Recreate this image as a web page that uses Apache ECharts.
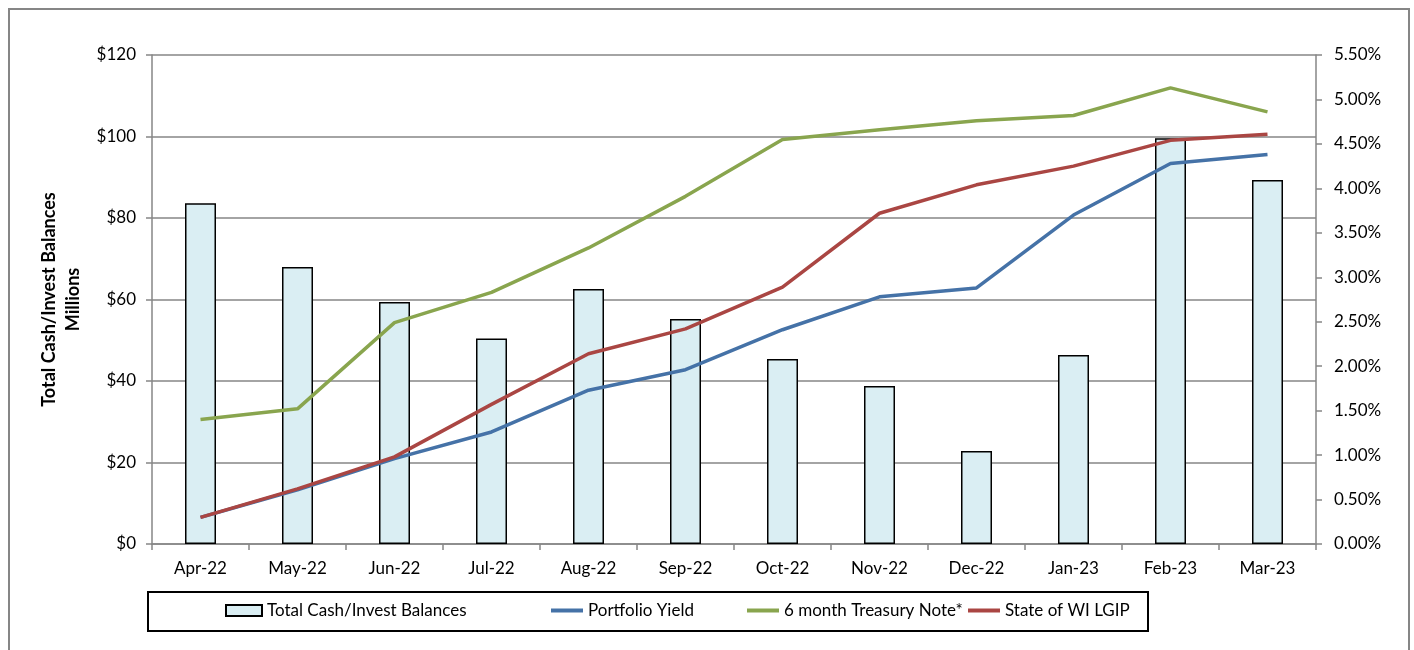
<!DOCTYPE html>
<html>
<head>
<meta charset="utf-8">
<script src="https://cdn.jsdelivr.net/npm/echarts@6/dist/echarts.min.js"></script>
<style>
  html, body { margin: 0; padding: 0; background: #fff; }
  #chart { width: 1414px; height: 650px; }
</style>
</head>
<body>
<div id="chart"></div>
<script>
const months = ['Apr-22', 'May-22', 'Jun-22', 'Jul-22', 'Aug-22', 'Sep-22', 'Oct-22', 'Nov-22', 'Dec-22', 'Jan-23', 'Feb-23', 'Mar-23']
// balances, $ millions
const balances = [83.6, 68.0, 59.4, 50.4, 62.6, 55.2, 45.4, 38.8, 22.8, 46.4, 99.6, 89.3]
// yields, percent
const portfolioYield = [0.30, 0.61, 0.96, 1.26, 1.73, 1.96, 2.41, 2.78, 2.88, 3.70, 4.28, 4.38]
const treasury6m = [1.40, 1.52, 2.49, 2.83, 3.33, 3.91, 4.55, 4.66, 4.76, 4.82, 5.13, 4.86]
const lgip = [0.30, 0.62, 0.98, 1.57, 2.14, 2.42, 2.89, 3.72, 4.04, 4.25, 4.54, 4.61]

const FONT = 'Lato'
const AXIS_GREY = '#868686'

const chart = echarts.init(document.getElementById('chart'))

const legendBase = {
  top: 602,
  padding: 0,
  itemHeight: 4,
  itemWidth: 32,
  textStyle: { fontFamily: FONT, fontSize: 17, color: '#000' },
}

chart.setOption({
  animation: false,
  textStyle: { fontFamily: FONT },
  grid: { left: 152, right: 98, top: 55, bottom: 106 },
  graphic: [
    {
      type: 'rect',
      shape: { x: 9, y: 9, width: 1400, height: 700 },
      style: { fill: 'none', stroke: AXIS_GREY, lineWidth: 2 },
      silent: true,
    },
    {
      type: 'rect',
      shape: { x: 148, y: 592, width: 1000, height: 39 },
      style: { fill: 'none', stroke: '#000', lineWidth: 2 },
      silent: true,
    },
  ],
  legend: [
    {
      ...legendBase,
      left: 225,
      itemWidth: 36,
      itemHeight: 11,
      data: [{ name: 'Total Cash/Invest Balances', icon: 'rect' }],
    },
    { ...legendBase, left: 551, data: [{ name: 'Portfolio Yield', icon: 'rect' }] },
    { ...legendBase, left: 747, data: [{ name: '6 month Treasury Note*', icon: 'rect' }] },
    { ...legendBase, left: 968, data: [{ name: 'State of WI LGIP', icon: 'rect' }] },
  ],
  xAxis: {
    type: 'category',
    data: months,
    boundaryGap: true,
    axisLine: { lineStyle: { color: AXIS_GREY, width: 1.5 } },
    axisTick: { show: true, length: 6, lineStyle: { color: AXIS_GREY, width: 1.5 } },
    axisLabel: { color: '#000', fontSize: 17, margin: 16 },
  },
  yAxis: [
    {
      type: 'value',
      min: 0,
      max: 120,
      interval: 20,
      name: 'Total Cash/Invest Balances\nMillions',
      nameLocation: 'middle',
      nameRotate: 90,
      nameGap: 60,
      nameTextStyle: { color: '#000', fontSize: 18, fontWeight: 'bold', lineHeight: 24 },
      axisLine: { show: true, lineStyle: { color: AXIS_GREY, width: 1.5 } },
      axisTick: { show: true, length: 6, lineStyle: { color: AXIS_GREY, width: 1.5 } },
      axisLabel: { color: '#000', fontSize: 17, margin: 16, formatter: (v) => '$' + v },
      splitLine: { show: true, lineStyle: { color: AXIS_GREY, width: 1.5 } },
    },
    {
      type: 'value',
      min: 0,
      max: 5.5,
      interval: 0.5,
      position: 'right',
      axisLine: { show: true, lineStyle: { color: AXIS_GREY, width: 1.5 } },
      axisTick: { show: true, length: 6, lineStyle: { color: AXIS_GREY, width: 1.5 } },
      axisLabel: { color: '#000', fontSize: 17, margin: 18, formatter: (v) => v.toFixed(2) + '%' },
      splitLine: { show: false },
    },
  ],
  series: [
    {
      name: 'Total Cash/Invest Balances',
      type: 'bar',
      yAxisIndex: 0,
      data: balances,
      barWidth: 31,
      itemStyle: { color: '#DAEEF3', borderColor: '#000', borderWidth: 1.5 },
    },
    {
      name: 'Portfolio Yield',
      type: 'line',
      yAxisIndex: 1,
      data: portfolioYield,
      color: '#4572A7',
      showSymbol: false,
      lineStyle: { width: 3.5, color: '#4572A7' },
    },
    {
      name: '6 month Treasury Note*',
      type: 'line',
      yAxisIndex: 1,
      data: treasury6m,
      color: '#89A54E',
      showSymbol: false,
      lineStyle: { width: 3.5, color: '#89A54E' },
    },
    {
      name: 'State of WI LGIP',
      type: 'line',
      yAxisIndex: 1,
      data: lgip,
      color: '#AA4643',
      showSymbol: false,
      lineStyle: { width: 3.5, color: '#AA4643' },
    },
  ],
})

window.addEventListener('resize', () => chart.resize())
</script>
</body>
</html>
